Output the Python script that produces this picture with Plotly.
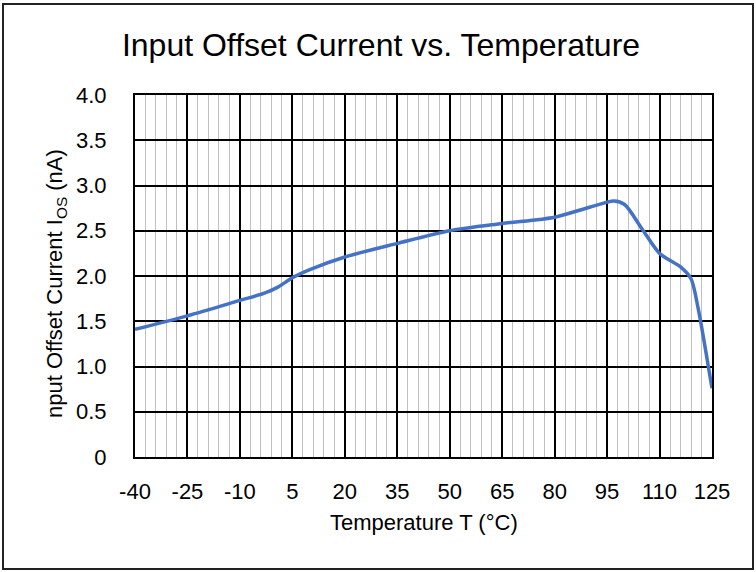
import plotly.graph_objects as go

# Data
temperature_c = [-40, -25, -10, -3, 1, 5, 10, 20, 35, 50, 65, 80, 90, 97, 100, 105, 110, 116, 119, 121, 123, 125]
ios_na = [1.41, 1.56, 1.73, 1.81, 1.88, 1.98, 2.07, 2.21, 2.36, 2.50, 2.58, 2.65, 2.76, 2.83, 2.79, 2.52, 2.25, 2.10, 1.97, 1.65, 1.22, 0.76]

x_tick_vals = [-40, -25, -10, 5, 20, 35, 50, 65, 80, 95, 110, 125]
x_tick_labels = ["-40", "-25", "-10", "5", "20", "35", "50", "65", "80", "95", "110", "125"]
y_tick_vals = [0, 0.5, 1.0, 1.5, 2.0, 2.5, 3.0, 3.5, 4.0]
y_tick_labels = ["0", "0.5", "1.0", "1.5", "2.0", "2.5", "3.0", "3.5", "4.0"]

W, H = 756, 572
L, R, T, B = 135, 712, 95, 457  # plot area in pixels

def px_x(p):
    return (p - L) / (R - L)

def px_y(p):
    return (B - p) / (B - T)

FONT = "Liberation Sans, Arial, sans-serif"

fig = go.Figure()
fig.add_trace(go.Scatter(
    x=temperature_c, y=ios_na, mode="lines",
    line=dict(color="#4472C4", width=3.5, shape="spline", smoothing=0.8),
    showlegend=False, hoverinfo="skip",
))

fig.update_layout(
    width=W, height=H,
    margin=dict(l=L, r=W - R, t=T, b=H - B),
    paper_bgcolor="white", plot_bgcolor="white",
    font=dict(family=FONT, color="black", size=22),
    title=dict(text="Input Offset Current vs. Temperature",
               font=dict(family=FONT, size=32, color="black"),
               x=381 / W, xanchor="center", xref="container",
               y=1 - 45 / H, yanchor="middle", yref="container"),
    xaxis=dict(
        range=[-40, 125], tickvals=x_tick_vals, ticktext=x_tick_labels,
        showgrid=True, gridcolor="black", gridwidth=2,
        minor=dict(tick0=-40, dtick=3, showgrid=True, gridcolor="#c0c0c0", gridwidth=1.3),
        showline=True, linecolor="black", linewidth=2, mirror=True,
        ticks="", ticklabelstandoff=14, zeroline=False,
        tickfont=dict(size=22, family=FONT),
    ),
    yaxis=dict(
        range=[0, 4], tickvals=y_tick_vals, ticktext=y_tick_labels,
        showgrid=True, gridcolor="black", gridwidth=2,
        showline=True, linecolor="black", linewidth=2, mirror=True,
        ticks="", ticklabelstandoff=22, zeroline=False,
        tickfont=dict(size=22, family=FONT),
    ),
    shapes=[dict(type="rect", xref="paper", yref="paper",
                 x0=px_x(3), x1=px_x(753), y0=px_y(569), y1=px_y(4),
                 line=dict(color="#222222", width=2), fillcolor="rgba(0,0,0,0)", layer="below")],
    annotations=[
        dict(text="Temperature T (°C)", xref="paper", yref="paper",
             x=px_x(423.5), y=px_y(522), xanchor="center", yanchor="middle",
             showarrow=False, font=dict(size=22, family=FONT)),
        dict(text="nput Offset Current I<sub>OS</sub> (nA)", xref="paper", yref="paper",
             x=px_x(56), y=px_y(284), xanchor="center", yanchor="middle", textangle=-90,
             showarrow=False, font=dict(size=22, family=FONT)),
    ],
)

fig.write_html("out.html", config={"displayModeBar": False},
               post_script="document.body.style.margin='0';document.body.style.overflow='hidden';")
